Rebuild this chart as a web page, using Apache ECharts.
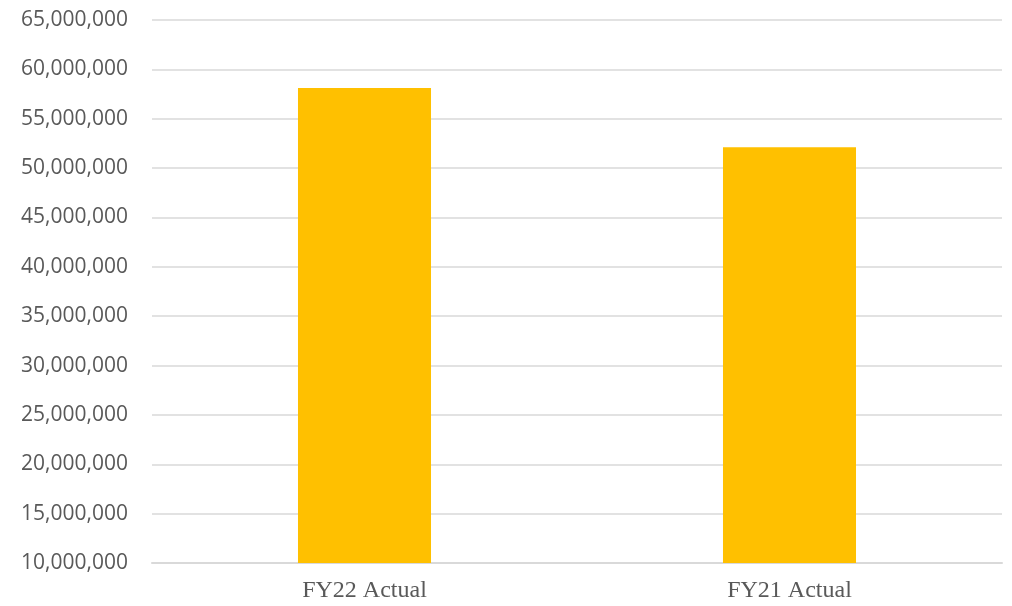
<!DOCTYPE html>
<html>
<head>
<meta charset="utf-8">
<script src="https://cdn.jsdelivr.net/npm/echarts@6/dist/echarts.min.js"></script>
<style>
  html, body { margin: 0; padding: 0; background: #fff; }
  #chart { width: 1012px; height: 606px; }
</style>
</head>
<body>
<div id="chart"></div>
<script>
const categories = ["FY22 Actual", "FY21 Actual"];
const values = [58100000, 52100000];
const yMin = 10000000;
const yMax = 65000000;
const yStep = 5000000;

const chart = echarts.init(document.getElementById("chart"));

const option = {
    animation: false,
    grid: {
        left: 152,
        right: 10,
        top: 20,
        bottom: 43
    },
    xAxis: {
        type: "category",
        data: categories,
        axisLine: { lineStyle: { color: "#d9d9d9", width: 2 } },
        axisTick: { show: false },
        axisLabel: {
            color: "#595959",
            fontFamily: "Liberation Serif",
            fontSize: 24,
            margin: 16
        }
    },
    yAxis: {
        type: "value",
        min: yMin,
        max: yMax,
        interval: yStep,
        axisLine: { show: false },
        axisTick: { show: false },
        splitLine: { lineStyle: { color: "#d9d9d9", width: 1.5 } },
        axisLabel: {
            color: "#595959",
            fontFamily: "Open Sans",
            fontSize: 21,
            margin: 24,
            formatter: v => v.toLocaleString("en-US")
        }
    },
    series: [
        {
            type: "bar",
            data: values,
            barWidth: "31.3%",
            itemStyle: { color: "#ffc000" }
        }
    ]
};

chart.setOption(option);
</script>
</body>
</html>
